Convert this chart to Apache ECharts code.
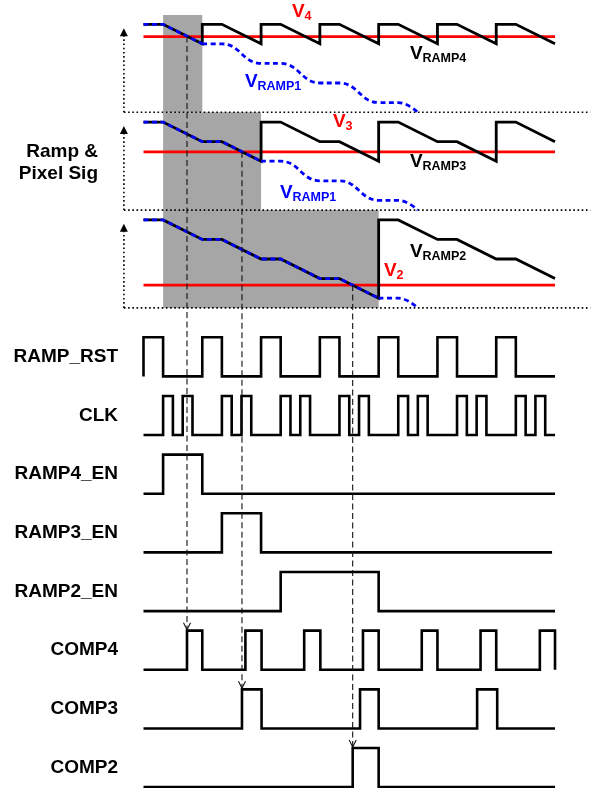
<!DOCTYPE html>
<html><head><meta charset="utf-8">
<script src="https://cdn.jsdelivr.net/npm/echarts@6/dist/echarts.min.js"></script>
<style>html,body{margin:0;padding:0;background:#fff}#c{width:591px;height:788px}</style>
</head><body><div id="c"></div>
<script>
// ---- time base: 1 unit = 1/6 of a RAMP_RST period ----
const T_END = 42;

// ---- digital signals: intervals where the signal is high ----
const RAMP_RST_HIGH = [[0,2],[6,8],[12,14],[18,20],[24,26],[30,32],[36,38]];
const CLK_HIGH = [[2,3],[4,5],[8,9],[10,11],[14,15],[16,17],[20,21],[22,23],[26,27],[28,29],[32,33],[34,35],[38,39],[40,41]];
const RAMP4_EN_HIGH = [[2,6]];
const RAMP3_EN_HIGH = [[8,12]];
const RAMP2_EN_HIGH = [[14,24]];
const COMP4_HIGH = [[4.44,6],[10.4,12.05],[16.4,18.05],[22.4,24],[28.4,30],[34.4,36],[40.45,42]];
const COMP3_HIGH = [[10.05,12.05],[22.1,24],[34.05,36.1]];
const COMP2_HIGH = [[21.35,24]];
const SIGNAL_NAMES = ['RAMP_RST','CLK','RAMP4_EN','RAMP3_EN','RAMP2_EN','COMP4','COMP3','COMP2'];
const SIGNAL_END = [42,42,42,41.7,42,42,42,42];

// ---- ramp waveforms: time and level (steps below the reset level) ----
const RAMP1_T  = [0,2,6,8,12,14,18,20,24,26,28];
const RAMP1_LV = [0,0,1,1,2,2,3,3,4,4,4.5];
const RAMP4_T  = [0,2,6,6,8,12,12,14,18,18,20,24,24,26,30,30,32,36,36,38,42];
const RAMP4_LV = [0,0,1,0,0,1,0,0,1,0,0,1,0,0,1,0,0,1,0,0,1];
const RAMP3_T  = [0,2,6,8,12,12,14,18,20,24,24,26,30,32,36,36,38,42];
const RAMP3_LV = [0,0,1,1,2,0,0,1,1,2,0,0,1,1,2,0,0,1];
const RAMP2_T  = [0,2,6,8,12,14,18,20,24,24,26,30,32,36,38,42];
const RAMP2_LV = [0,0,1,1,2,2,3,3,4,0,0,1,1,2,2,3];
// reference levels V4, V3, V2 and where RAMP1 crosses them
const V_REF = [0.63, 1.52, 3.33];
const CROSS_T = [4.44, 10.05, 21.35];
// ramp enable windows (shaded): start / end times per panel
const EN_START = [2, 2, 2];
const EN_END = [6, 12, 24];

// ---- layout (vertical offsets in grid units) ----
const PANEL_OFF = [0, 5, 10];
const SIG_OFF = [18, 21, 24, 27, 30, 33, 36, 39];
const AMP = 2;
const X_MIN = -2, X_MAX = 45.6;
const Y_MIN = -1, Y_MAX = 39.04;

const RED = '#ff0000', BLUE = '#0000ff', BLK = '#000000', GRAY = '#a6a6a6';

function stepData(highs, end, off) {
  const pts = [[0, off]];
  highs.forEach(([a, b]) => { pts.push([a, off], [a, off - AMP], [b, off - AMP], [b, off]); });
  pts.push([end, off]);
  return pts;
}
function rampData(T, LV, off, from, to) {
  const pts = [];
  for (let i = 0; i < T.length; i++) {
    if (T[i] >= from && T[i] <= to) pts.push([T[i], off + LV[i]]);
  }
  return pts;
}
function lineSeries(data, color, width, extra) {
  return Object.assign({
    type: 'line', data: data, symbol: 'none', silent: true, animation: false, clip: false,
    lineStyle: { color: color, width: width, cap: 'butt', join: 'miter' }, z: 3
  }, extra || {});
}

const series = [];
// shaded enable windows
series.push({
  type: 'custom', z: 1, silent: true, animation: false,
  data: PANEL_OFF.map((o, i) => [EN_START[i], EN_END[i], o - (i === 0 ? 0.48 : 0.5), o + 4.5]),
  renderItem: function (params, api) {
    const p0 = api.coord([api.value(0), api.value(2)]);
    const p1 = api.coord([api.value(1), api.value(3)]);
    return { type: 'rect', shape: { x: p0[0], y: p0[1], width: p1[0] - p0[0], height: p1[1] - p0[1] }, style: { fill: GRAY } };
  }
});
// dotted panel separators
PANEL_OFF.forEach(o => {
  series.push(lineSeries([[X_MIN, o + 4.5], [X_MAX, o + 4.5]], BLK, 1.6, {
    lineStyle: { color: BLK, width: 1.6, type: [1.6, 2.6], cap: 'butt' }, z: 2 }));
});
// dotted up arrows
series.push({
  type: 'custom', z: 2, silent: true, animation: false,
  data: PANEL_OFF.map(o => [X_MIN, o + 4.5, o + 0.2]),
  renderItem: function (params, api) {
    const a = api.coord([api.value(0), api.value(1)]);
    const b = api.coord([api.value(0), api.value(2)]);
    return { type: 'group', children: [
      { type: 'line', shape: { x1: a[0], y1: a[1], x2: b[0], y2: b[1] + 6 }, style: { stroke: BLK, lineWidth: 1.6, lineDash: [1.6, 2.6] } },
      { type: 'polygon', shape: { points: [[b[0], b[1]], [b[0] - 4, b[1] + 8], [b[0] + 4, b[1] + 8]] }, style: { fill: BLK } }
    ] };
  }
});
// reference levels
PANEL_OFF.forEach((o, i) => series.push(lineSeries([[0, o + V_REF[i]], [T_END, o + V_REF[i]]], RED, 2.8, { z: 3 })));
// black ramps
series.push(lineSeries(rampData(RAMP4_T, RAMP4_LV, PANEL_OFF[0], 0, 99), BLK, 2.8, { z: 4 }));
series.push(lineSeries(rampData(RAMP3_T, RAMP3_LV, PANEL_OFF[1], 0, 99), BLK, 2.8, { z: 4 }));
series.push(lineSeries(rampData(RAMP2_T, RAMP2_LV, PANEL_OFF[2], 0, 99), BLK, 2.8, { z: 4 }));
// blue RAMP1 (dashed) in each panel
PANEL_OFF.forEach((o, i) => {
  series.push(lineSeries(rampData(RAMP1_T, RAMP1_LV, o, 0, EN_END[i]), BLUE, 2.8, {
    lineStyle: { color: BLUE, width: 2.8, type: [5, 3.5], cap: 'butt' }, z: 5 }));
  series.push(lineSeries(rampData(RAMP1_T, RAMP1_LV, o, EN_END[i], 99), BLUE, 2.8, {
    smooth: 0.45, lineStyle: { color: BLUE, width: 2.8, type: [5, 3.5], cap: 'butt' }, z: 5 }));
});
// digital signals
const HIGHS = [RAMP_RST_HIGH, CLK_HIGH, RAMP4_EN_HIGH, RAMP3_EN_HIGH, RAMP2_EN_HIGH, COMP4_HIGH, COMP3_HIGH, COMP2_HIGH];
HIGHS.forEach((h, i) => series.push(lineSeries(stepData(h, SIGNAL_END[i], SIG_OFF[i]), BLK, 2.6, { z: 4 })));
// dashed arrows from crossings to comparator outputs
series.push({
  type: 'custom', z: 6, silent: true, animation: false,
  data: CROSS_T.map((t, i) => [t, PANEL_OFF[i] + V_REF[i], SIG_OFF[5 + i] - AMP]),
  renderItem: function (params, api) {
    const a = api.coord([api.value(0), api.value(1)]);
    const b = api.coord([api.value(0), api.value(2)]);
    return { type: 'group', children: [
      { type: 'line', shape: { x1: a[0], y1: a[1], x2: b[0], y2: b[1] - 1 }, style: { stroke: '#111', lineWidth: 1.1, lineDash: [6, 3.5] } },
      { type: 'polyline', shape: { points: [[b[0] - 3.5, b[1] - 8], [b[0], b[1] - 1], [b[0] + 3.5, b[1] - 8]] }, style: { stroke: '#111', fill: null, lineWidth: 1.1 } }
    ] };
  }
});

const chart = echarts.init(document.getElementById('c'), null, { renderer: 'canvas' });
const GRID_TOP = 4.74, UNIT_Y = 19.56, UNIT_X = 9.798;
chart.setOption({
  animation: false,
  backgroundColor: '#ffffff',
  grid: { left: 143.5 + X_MIN * UNIT_X, top: GRID_TOP, width: (X_MAX - X_MIN) * UNIT_X, height: (Y_MAX - Y_MIN) * UNIT_Y },
  xAxis: { type: 'value', min: X_MIN, max: X_MAX, show: false },
  yAxis: { type: 'value', min: Y_MIN, max: Y_MAX, inverse: true, show: false },
  series: series
});

// ---- text ----
const FONT = '"Liberation Sans", Arial, Helvetica, sans-serif';
const graphics = [];
SIGNAL_NAMES.forEach((n, i) => {
  const y = chart.convertToPixel({ gridIndex: 0 }, [0, SIG_OFF[i] - AMP / 2])[1];
  graphics.push({ type: 'text', x: 118, y: y, style: { text: n, font: 'bold 19px ' + FONT, fill: BLK, textAlign: 'right', textVerticalAlign: 'middle' } });
});
graphics.push({ type: 'text', x: 98, y: 151.5, style: { text: 'Ramp &', font: 'bold 19px ' + FONT, fill: BLK, textAlign: 'right', textVerticalAlign: 'middle' } });
graphics.push({ type: 'text', x: 98, y: 173.5, style: { text: 'Pixel Sig', font: 'bold 19px ' + FONT, fill: BLK, textAlign: 'right', textVerticalAlign: 'middle' } });

const V_LABELS = [
  ['4', RED, 292, 12], ['RAMP4', BLK, 410, 53.5], ['RAMP1', BLUE, 245, 81.5],
  ['3', RED, 333, 121.5], ['RAMP3', BLK, 410, 162], ['RAMP1', BLUE, 280, 192.5],
  ['RAMP1', BLUE, 292, 252.5], ['2', RED, 384, 271], ['RAMP2', BLK, 410, 251.5]
];
V_LABELS.forEach(([sub, col, x, y]) => {
  graphics.push({ type: 'text', x: x, y: y, style: { text: 'V', font: 'bold 19px ' + FONT, fill: col, textAlign: 'left', textVerticalAlign: 'middle' } });
  graphics.push({ type: 'text', x: x + 12.5, y: y + 5, style: { text: sub, font: 'bold 12.5px ' + FONT, fill: col, textAlign: 'left', textVerticalAlign: 'middle' } });
});
chart.setOption({ graphic: graphics });
</script>
</body></html>
